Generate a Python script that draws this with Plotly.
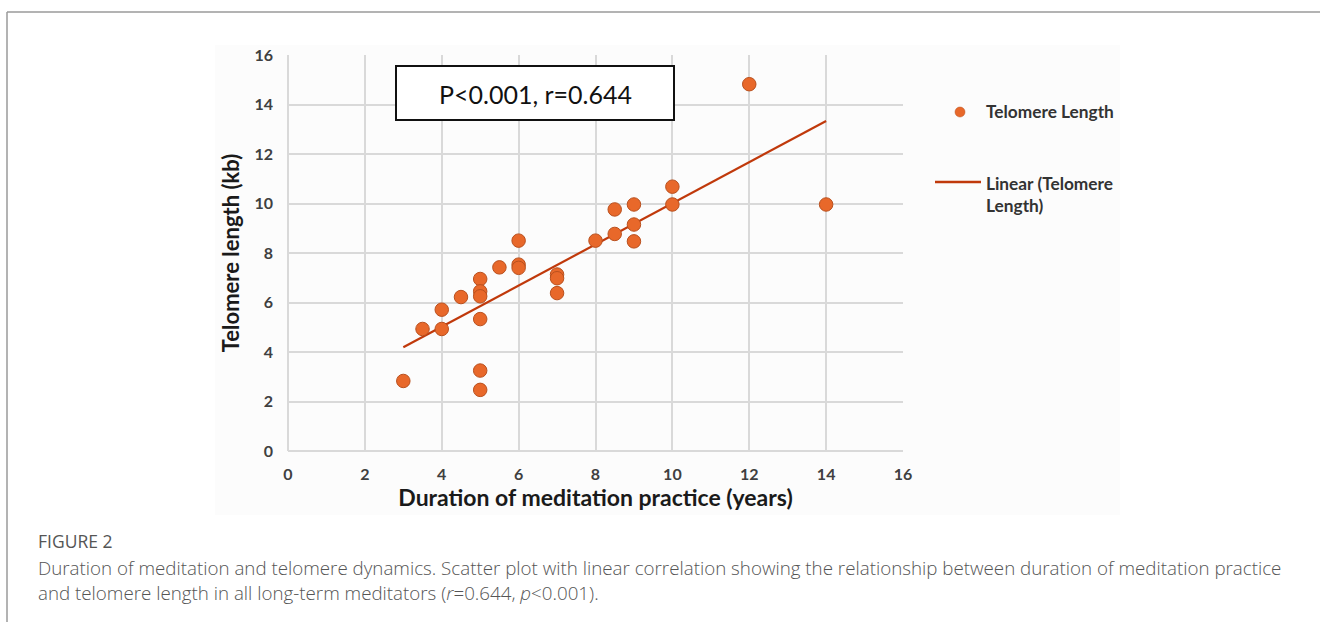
import numpy as np
import plotly.graph_objects as go

# ---- data ----
duration_years = [3, 3.5, 4, 4, 4.5, 5, 5, 5, 5, 5, 5, 5.5, 6, 6, 6, 7, 7, 7,
                  8, 8.5, 8.5, 9, 9, 9, 10, 10, 12, 14]
telomere_kb = [2.83, 4.93, 5.71, 4.93, 6.22, 6.95, 6.45, 6.25, 5.33, 3.25, 2.47,
               7.42, 8.5, 7.53, 7.4, 7.13, 6.98, 6.38, 8.5, 9.76, 8.77, 9.96,
               9.15, 8.47, 10.68, 9.96, 14.82, 9.96]
x_ticks = [0, 2, 4, 6, 8, 10, 12, 14, 16]
y_ticks = [0, 2, 4, 6, 8, 10, 12, 14, 16]

W, H = 1320, 622


def px(x):
    """screen x pixel -> paper fraction"""
    return x / W


def py(y):
    """screen y pixel -> paper fraction"""
    return 1 - y / H


# linear trend line (least squares fit of the data)
slope, intercept = np.polyfit(duration_years, telomere_kb, 1)
trend_x = [min(duration_years), max(duration_years)]
trend_y = [slope * v + intercept for v in trend_x]

DOT = "#E8682A"
DOT_EDGE = "#B9501E"
LINE = "#C0390B"
FAM = "Lato, Carlito, Calibri, sans-serif"
TICK_FONT = dict(family=FAM, size=16, color="#404040", weight="bold")

fig = go.Figure()
fig.add_trace(go.Scatter(
    x=trend_x, y=trend_y, mode="lines", name="Linear (Telomere Length)",
    line=dict(color=LINE, width=2.2), showlegend=False, hoverinfo="skip"))
fig.add_trace(go.Scatter(
    x=duration_years, y=telomere_kb, mode="markers", name="Telomere Length",
    marker=dict(size=13.5, color=DOT, line=dict(color=DOT_EDGE, width=1)),
    showlegend=False))

grid = "#d9d9d9"
fig.update_xaxes(
    domain=[px(288), px(903)], range=[0, 16], tickvals=x_ticks, automargin=False,
    showgrid=True, gridcolor=grid, gridwidth=1.5, zeroline=True, zerolinecolor=grid,
    zerolinewidth=1.5, showline=False, ticks="", tickfont=TICK_FONT,
    ticklabelstandoff=12, fixedrange=True,
    title=dict(text="Duration of meditation practice (years)",
               font=dict(family=FAM, size=23, color="#1a1a1a", weight="bold"), standoff=4))
fig.update_yaxes(
    domain=[py(451), py(55)], range=[0, 16], tickvals=y_ticks, automargin=False,
    showgrid=True, gridcolor=grid, gridwidth=1.5, zeroline=True, zerolinecolor=grid,
    zerolinewidth=1.5, showline=False, ticks="", tickfont=TICK_FONT,
    ticklabelstandoff=14, fixedrange=True,
    title=dict(text="Telomere length (kb)",
               font=dict(family=FAM, size=22, color="#1a1a1a", weight="bold"), standoff=8))

shapes = [
    # faint chart panel background
    dict(type="rect", xref="paper", yref="paper", x0=px(215), x1=px(1120), y0=py(515), y1=py(45),
         fillcolor="#fcfcfc", line=dict(width=0), layer="below"),
    # outer frame (top and left)
    dict(type="line", xref="paper", yref="paper", x0=px(7), x1=px(1320), y0=py(12), y1=py(12),
         line=dict(color="#9a9a9a", width=1.5)),
    dict(type="line", xref="paper", yref="paper", x0=px(7), x1=px(7), y0=py(12), y1=py(622),
         line=dict(color="#9a9a9a", width=1.5)),
    # statistics box
    dict(type="rect", xref="paper", yref="paper", x0=px(396), x1=px(674), y0=py(120), y1=py(66),
         fillcolor="white", line=dict(color="#111111", width=2)),
    # legend symbols
    dict(type="circle", xref="paper", yref="paper", x0=px(955), x1=px(965), y0=py(117), y1=py(107),
         fillcolor=DOT, line=dict(color=DOT_EDGE, width=0.5)),
    dict(type="line", xref="paper", yref="paper", x0=px(935), x1=px(981), y0=py(182), y1=py(182),
         line=dict(color=LINE, width=2.5)),
]

LEG_FONT = dict(family=FAM, size=17.3, color="#333333", weight="bold")
CAP_FONT = dict(family="Open Sans, sans-serif", size=18.75, color="#555555", weight=300)
annotations = [
    dict(text="P<0.001, r=0.644", xref="paper", yref="paper", x=px(535), y=py(94),
         xanchor="center", yanchor="middle", showarrow=False,
         font=dict(family=FAM, size=25, color="#111111")),
    dict(text="Telomere Length", xref="paper", yref="paper", x=px(984), y=py(111),
         xanchor="left", yanchor="middle", showarrow=False, font=LEG_FONT),
    dict(text="Linear (Telomere<br>Length)", xref="paper", yref="paper", x=px(984), y=py(171),
         xanchor="left", yanchor="top", showarrow=False, font=LEG_FONT, align="left"),
    dict(text="FIGURE 2", xref="paper", yref="paper", x=px(36), y=py(541),
         xanchor="left", yanchor="middle", showarrow=False,
         font=dict(family="Open Sans, sans-serif", size=17.5, color="#555555")),
    dict(text="Duration of meditation and telomere dynamics. Scatter plot with linear correlation "
              "showing the relationship between duration of meditation practice",
         xref="paper", yref="paper", x=px(36), y=py(567),
         xanchor="left", yanchor="middle", showarrow=False, font=CAP_FONT),
    dict(text="and telomere length in all long-term meditators (<i>r</i>=0.644, <i>p</i>&lt;0.001).",
         xref="paper", yref="paper", x=px(36), y=py(592),
         xanchor="left", yanchor="middle", showarrow=False, font=CAP_FONT),
]

fig.update_layout(
    width=W, height=H, autosize=False,
    margin=dict(l=0, r=0, t=0, b=0, pad=0, autoexpand=False),
    paper_bgcolor="white", plot_bgcolor="white",
    shapes=shapes, annotations=annotations, showlegend=False,
)

fig.write_html(
    "out.html",
    config={"displayModeBar": False, "responsive": False},
    post_script=("document.documentElement.style.margin='0';"
                 "document.documentElement.style.overflow='hidden';"
                 "document.body.style.margin='0';"
                 "document.body.style.overflow='hidden';"),
)
